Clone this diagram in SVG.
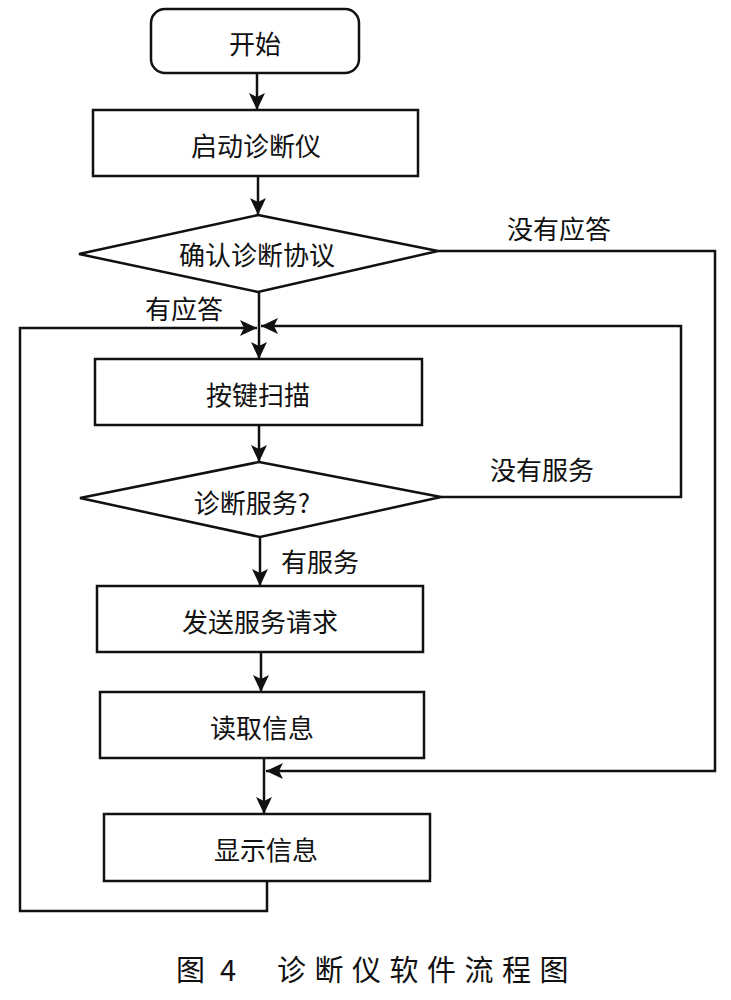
<svg xmlns="http://www.w3.org/2000/svg" width="731" height="1000" viewBox="0 0 731 1000">
<defs>
<marker id="arr" markerUnits="userSpaceOnUse" markerWidth="17" markerHeight="16" refX="17" refY="8" orient="auto">
<path d="M0,0 L17,8 L0,16 L4,8 Z" fill="#111"/>
</marker>
<style>
.n{fill:#fff;stroke:#111;stroke-width:2.5}
.c{fill:none;stroke:#111;stroke-width:2.5}
.t{font-family:"Noto Sans CJK SC","Noto Sans",sans-serif;font-size:26px;fill:#111;text-anchor:middle;dominant-baseline:central}
.cap{font-family:"Noto Sans CJK SC","Noto Sans",sans-serif;font-size:29px;fill:#111;dominant-baseline:central}
</style>
</defs>
<rect width="731" height="1000" fill="#fff"/>
<g id="connectors">
<line class="c" x1="257" y1="73" x2="257" y2="110" marker-end="url(#arr)"/>
<line class="c" x1="258" y1="176" x2="258" y2="215" marker-end="url(#arr)"/>
<line class="c" x1="259" y1="292" x2="259" y2="359" marker-end="url(#arr)"/>
<line class="c" x1="259" y1="425" x2="259" y2="462" marker-end="url(#arr)"/>
<line class="c" x1="260" y1="537" x2="260" y2="586" marker-end="url(#arr)"/>
<line class="c" x1="261" y1="652" x2="261" y2="692" marker-end="url(#arr)"/>
<line class="c" x1="264" y1="758" x2="264" y2="814" marker-end="url(#arr)"/>
<polyline class="c" points="267,881 267,911 20,911 20,328 257,328" marker-end="url(#arr)"/>
<polyline class="c" points="441,497 681,497 681,326 261,326" marker-end="url(#arr)"/>
<polyline class="c" points="438,251 715,251 715,771 266,771" marker-end="url(#arr)"/>
<text class="t" x="559" y="227">没有应答</text>
<text class="t" x="184" y="307">有应答</text>
<text class="t" x="542" y="468">没有服务</text>
<text class="t" x="320" y="560">有服务</text>
</g>
<g id="start">
<rect class="n" x="151" y="9" width="208" height="64" rx="14"/>
<text class="t" x="255" y="42">开始</text>
</g>
<g id="boot">
<rect class="n" x="93" y="110" width="325" height="66"/>
<text class="t" x="256" y="144">启动诊断仪</text>
</g>
<g id="protocol">
<polygon class="n" points="258,215 438,251 258,292 79,254"/>
<text class="t" x="257" y="253">确认诊断协议</text>
</g>
<g id="scan">
<rect class="n" x="95" y="359" width="327" height="66"/>
<text class="t" x="258" y="393">按键扫描</text>
</g>
<g id="service">
<polygon class="n" points="259,462 441,497 260,537 80,498"/>
<text class="t" x="252" y="501">诊断服务?</text>
</g>
<g id="send">
<rect class="n" x="97" y="586" width="326" height="66"/>
<text class="t" x="260" y="620">发送服务请求</text>
</g>
<g id="read">
<rect class="n" x="100" y="692" width="324" height="66"/>
<text class="t" x="262" y="726">读取信息</text>
</g>
<g id="display">
<rect class="n" x="104" y="814" width="326" height="67"/>
<text class="t" x="266" y="848">显示信息</text>
</g>
<g id="caption">
<text class="cap" x="176" y="968">图</text>
<text class="cap" x="220" y="968">4</text>
<text class="cap" x="277" y="968" letter-spacing="8.5">诊断仪软件流程图</text>
</g>
</svg>
